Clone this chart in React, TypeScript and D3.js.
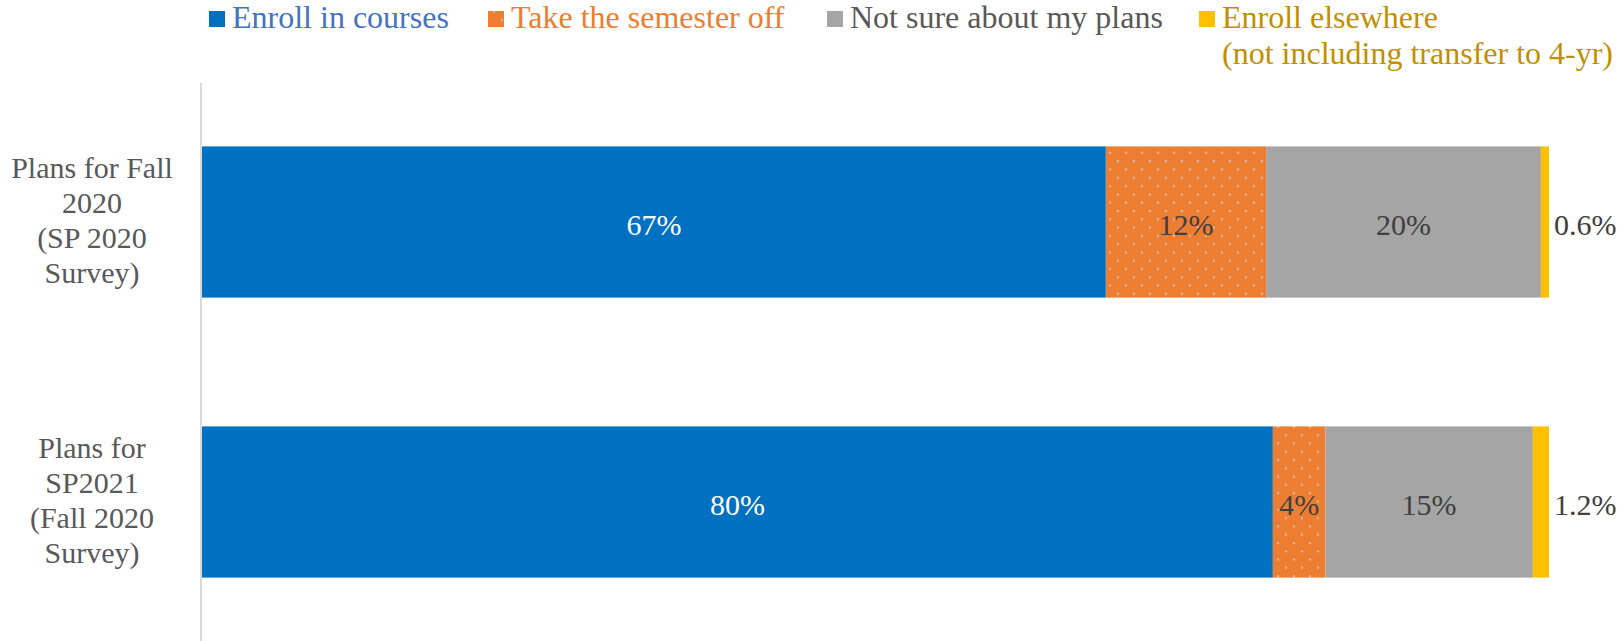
import React from "react";
import * as d3 from "d3";

const categories = ["Plans for Fall 2020 (SP 2020 Survey)", "Plans for SP2021 (Fall 2020 Survey)"];
const categoryLines = [
  ["Plans for Fall", "2020", "(SP 2020", "Survey)"],
  ["Plans for", "SP2021", "(Fall 2020", "Survey)"],
];
const seriesNames = ["Enroll in courses", "Take the semester off", "Not sure about my plans", "Enroll elsewhere"];
const legendLines = [
  ["Enroll in courses"],
  ["Take the semester off"],
  ["Not sure about my plans"],
  ["Enroll elsewhere", "(not including transfer to 4-yr)"],
];
const enrollCourses = [67.1, 79.5];
const takeOff = [11.9, 3.9];
const notSure = [20.4, 15.4];
const enrollElsewhere = [0.6, 1.2];

const seriesValues = [enrollCourses, takeOff, notSure, enrollElsewhere];
const fills = ["#0070C0", "url(#dots)", "#A5A5A5", "#FFC000"];
const legendSwatch = ["#0070C0", "url(#dots)", "#A5A5A5", "#FFC000"];
const legendTextColors = ["#4472C4", "#ED7D31", "#595959", "#BF9000"];
const labelColors = ["#FFFFFF", "#404040", "#404040", "#404040"];
const legendX = [209, 488, 827, 1199];

const W = 1622;
const H = 641;
const FONT = "'Liberation Serif', 'Times New Roman', serif";

export default function App() {
  const x = d3.scaleLinear().domain([0, 100]).range([202, 1549]);
  const y = d3
    .scaleBand<string>()
    .domain(categories)
    .range([82, 642])
    .paddingInner(0.46)
    .paddingOuter(0.23);

  const rows = categories.map((c, i) => {
    const vals = seriesValues.map((s) => s[i]);
    const stack = d3.cumsum(vals);
    return vals.map((v, k) => ({ v, k, x0: stack[k] - v, x1: stack[k], cat: c }));
  });

  const fmtInt = (v: number) => `${Math.round(v)}%`;
  const fmt1 = (v: number) => `${d3.format(".1f")(v)}%`;

  const legendBase = 28;

  return (
    <svg
      width={W}
      height={H}
      style={{ position: "absolute", left: 0, top: 0, background: "#fff" }}
      fontFamily={FONT}
    >
      <defs>
        <pattern id="dots" patternUnits="userSpaceOnUse" width={16} height={16.6} x={0} y={0}>
          <rect width={16} height={16.6} fill="#ED7D31" />
          <rect x={5} y={2.5} width={2} height={2} fill="#C8C0B8" />
          <rect x={13} y={10.8} width={2} height={2} fill="#C8C0B8" />
        </pattern>
      </defs>

      {/* legend */}
      {seriesNames.map((name, k) => (
        <g key={name}>
          <rect x={legendX[k]} y={legendBase - 17} width={16} height={16} fill={legendSwatch[k]} />
          <text x={legendX[k] + 23} y={legendBase} fontSize={32} fill={legendTextColors[k]}>
            {legendLines[k].map((ln, j) => (
              <tspan key={j} x={legendX[k] + 23} y={legendBase + j * 36}>
                {ln}
              </tspan>
            ))}
          </text>
        </g>
      ))}

      {/* axis line */}
      <line x1={201} x2={201} y1={83} y2={641} stroke="#D9D9D9" strokeWidth={2} />

      {/* bars */}
      {rows.map((segs, i) =>
        segs.map((s) => (
          <rect
            key={`${i}-${s.k}`}
            x={x(s.x0)}
            y={y(s.cat)!}
            width={x(s.x1) - x(s.x0)}
            height={y.bandwidth()}
            fill={fills[s.k]}
          />
        ))
      )}

      {/* data labels */}
      {rows.map((segs, i) =>
        segs.map((s) => {
          const cy = y(s.cat)! + y.bandwidth() / 2 + 13;
          const isLast = s.k === segs.length - 1;
          return (
            <text
              key={`l-${i}-${s.k}`}
              x={isLast ? x(s.x1) + 5 : (x(s.x0) + x(s.x1)) / 2}
              y={cy}
              textAnchor={isLast ? "start" : "middle"}
              fontSize={30}
              fill={labelColors[s.k]}
            >
              {isLast ? fmt1(s.v) : fmtInt(s.v)}
            </text>
          );
        })
      )}

      {/* category labels */}
      {categories.map((c, i) => {
        const cy = y(c)! + y.bandwidth() / 2;
        const lines = categoryLines[i];
        const first = cy - ((lines.length - 1) / 2) * 35 + 8;
        return (
          <text key={c} textAnchor="middle" fontSize={30} fill="#595959">
            {lines.map((ln, j) => (
              <tspan key={j} x={92} y={first + j * 35}>
                {ln}
              </tspan>
            ))}
          </text>
        );
      })}
    </svg>
  );
}
